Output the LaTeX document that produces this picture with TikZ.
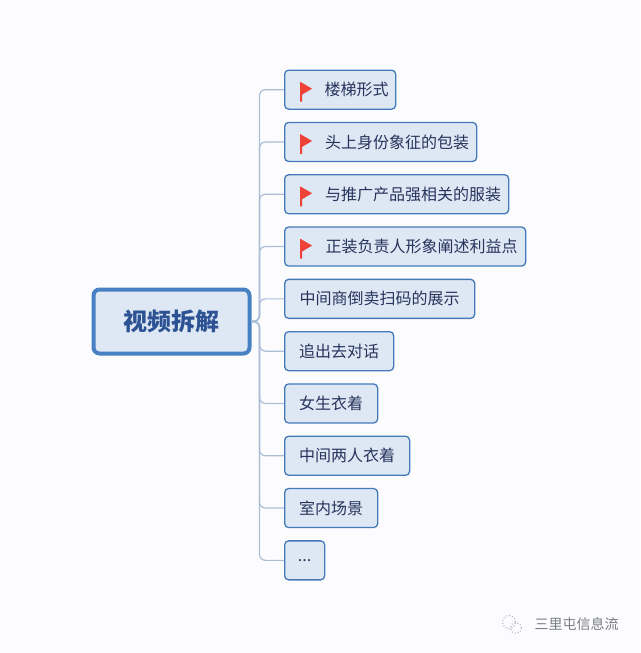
\documentclass[tikz,border=0pt]{standalone}
\usepackage{fontspec}
\setmainfont{Noto Sans CJK SC}
\usepackage{xcolor}
\usepackage{tikz}
\usetikzlibrary{positioning,calc}
\definecolor{mapBlue}{RGB}{72,128,196}
\definecolor{mapEdge}{RGB}{68,122,184}
\definecolor{mapFill}{RGB}{222,231,244}
\definecolor{mapLine}{RGB}{170,190,214}
\definecolor{mapInk}{RGB}{38,52,92}
\definecolor{mapHead}{RGB}{44,82,148}
\definecolor{flagRed}{RGB}{238,66,56}
\definecolor{markGray}{RGB}{120,124,130}

\begin{document}
\begin{tikzpicture}[x=1pt,y=-1pt,font=\fontsize{16}{18}\selectfont,text=mapInk,
  root/.style={draw=mapBlue,fill=mapFill,line width=4pt,rounded corners=6pt,minimum width=156pt,minimum height=64pt,inner sep=0pt,font=\fontsize{24}{28}\selectfont\bfseries,text=mapHead},
  leaf/.style={draw=mapEdge,fill=mapFill,line width=1.3pt,rounded corners=4pt,minimum height=39pt,inner sep=0pt,anchor=north west},
  link/.style={draw=mapLine,line width=1.2pt,rounded corners=6pt}]
\useasboundingbox (0,0) rectangle (640,653);
\fill[white!99!blue] (0,0) rectangle (640,653);
% centre
\node[root] (root) at (171.5,321.5) {视频拆解};
% leaves
\node[leaf,minimum width=111pt] (a) at (284,69.5) {\hspace*{33pt}楼梯形式\hfill};
\node[leaf,minimum width=192pt,below=12pt of a.south west,anchor=north west] (b) {\hspace*{33pt}头上身份象征的包装\hfill};
\node[leaf,minimum width=224pt,below=12pt of b.south west,anchor=north west] (c) {\hspace*{33pt}与推广产品强相关的服装\hfill};
\node[leaf,minimum width=241pt,below=12pt of c.south west,anchor=north west] (d) {\hspace*{33pt}正装负责人形象阐述利益点\hfill};
\node[leaf,minimum width=190pt,below=12pt of d.south west,anchor=north west] (e) {中间商倒卖扫码的展示};
\node[leaf,minimum width=109pt,below=12pt of e.south west,anchor=north west] (f) {追出去对话};
\node[leaf,minimum width=93pt,below=12pt of f.south west,anchor=north west] (g) {女生衣着};
\node[leaf,minimum width=125pt,below=12pt of g.south west,anchor=north west] (h) {中间两人衣着};
\node[leaf,minimum width=93pt,below=12pt of h.south west,anchor=north west] (i) {室内场景};
\node[leaf,minimum width=40pt,below=12pt of i.south west,anchor=north west] (j) {...};
% connectors
\coordinate (trunk) at ($(root.east)+(8,0)$);
\foreach \n in {a,b,c,d,e,f,g,h,i,j}
  \draw[link] (root.east) -- (trunk) |- (\n.west);
% flags
\foreach \n in {a,b,c,d}
  \fill[flagRed] ($(\n.west)+(16,-8)$) -- ++(12,7) -- ++(-10,6) -- ++(0,7) -- ++(-2,0) -- cycle;
% watermark
\node[font=\fontsize{14}{16}\selectfont,text=markGray,anchor=west] (mark) at (531,624) {三里屯信息流};
\node[draw=markGray!60,dotted,line width=1pt,circle,minimum size=13pt,inner sep=0pt] (logoa) at (509,622) {};
\node[draw=markGray!60,dotted,line width=1pt,circle,minimum size=11pt,inner sep=0pt] (logob) at (516,628) {};
\end{tikzpicture}
\end{document}
